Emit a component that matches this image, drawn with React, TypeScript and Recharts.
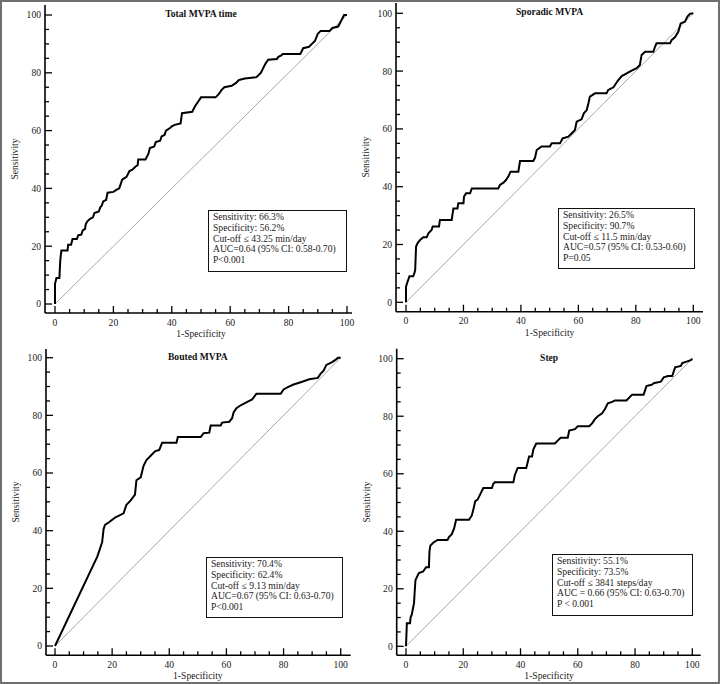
import { Line, LineChart, XAxis, YAxis } from "recharts";

// ROC points: false positive rate (1-Specificity) and sensitivity, both in %
const totalFpr = [0, 0, 0.5, 1.5, 1.8, 2, 2.2, 4.3, 4.5, 5.5, 6, 7.5, 8, 9, 9.5, 10.3, 10.5, 11, 12, 13, 13.5, 15, 15.5, 16, 16.5, 17.5, 18, 20, 21, 22, 22.5, 23, 24.5, 25.5, 26.5, 27.5, 28.3, 28.5, 31, 32, 32.5, 34, 34.5, 36, 36.5, 37.5, 38, 39.5, 40, 41, 43, 43.5, 47, 48, 49, 50, 55, 56, 57, 58, 60.5, 62, 63, 65, 69, 70.5, 71, 72, 73, 76, 76.5, 77.5, 78, 84, 85, 87, 88, 89, 90, 91, 94, 95, 97, 98, 99, 100];
const totalSens = [0, 7, 9, 9, 15, 17, 18.5, 18.5, 20.5, 20.5, 22.5, 22.5, 23.8, 24, 25.5, 26, 27.5, 28.5, 29.5, 30, 31.5, 32, 33.5, 34, 35.5, 36, 38.5, 38.8, 39.5, 40, 41.5, 43, 44, 46, 46.5, 47.5, 48, 50, 50, 52, 54, 54.5, 56, 56.5, 58, 58.5, 60, 61, 61.5, 62, 62.5, 66, 66.5, 68.5, 70, 71.5, 71.5, 72.5, 74, 75, 75.5, 76.5, 77.5, 78, 78.5, 80, 81, 83, 84.5, 84.8, 85.5, 86, 86.5, 86.5, 88.5, 89, 90, 91, 93.5, 94.5, 94.5, 95.5, 96, 98, 100, 100];

const sporadicFpr = [0, 0, 0.5, 1.2, 2.5, 2.9, 3.2, 3.5, 4, 4.9, 6, 7.2, 7.8, 8.9, 9.3, 11.5, 11.8, 15.9, 16.5, 17.9, 18.2, 20, 20.2, 20.9, 22.3, 22.9, 32.1, 32.7, 33.9, 34.8, 35.6, 36.4, 39.1, 39.7, 44.3, 44.9, 45.5, 47.2, 50.1, 50.7, 53.6, 54.5, 56.5, 57.7, 58.8, 59.4, 61.1, 61.9, 62.9, 63.5, 64, 65.8, 69.8, 70.4, 72.2, 73.9, 75.1, 76.8, 78.5, 80.3, 81.4, 82, 83.2, 86.1, 86.7, 87.2, 91.9, 92.5, 93.6, 94.8, 95.6, 97.1, 97.9, 98.8, 100];
const sporadicSens = [0, 5.4, 7, 9, 9, 10, 11.2, 19.3, 20.4, 21.6, 22.5, 22.5, 23.9, 25, 26.2, 26.2, 28.5, 28.5, 32.5, 32.5, 34.3, 34.3, 36.6, 37.7, 37.7, 39.4, 39.4, 40.6, 41.4, 42.3, 43.5, 45.2, 45.2, 48.9, 48.9, 50, 52.7, 53.9, 53.9, 55, 55, 56.7, 57.3, 58.5, 59.6, 62.5, 63.3, 65.4, 66.5, 68.9, 71.2, 72.3, 72.3, 73.5, 74.4, 76.9, 78.3, 79.2, 80.2, 81, 82.1, 85.6, 86.7, 86.7, 88.5, 89.6, 89.6, 90.8, 91.7, 93.7, 96.5, 97.1, 98.8, 99.8, 100];

const boutedFpr = [0, 14.8, 15.5, 16, 16.5, 17, 17.5, 19, 21, 24, 25, 26.5, 28, 28.5, 30, 31, 32, 33.5, 35, 36.5, 37.5, 42.5, 43, 51, 52, 54, 54.5, 58, 58.5, 61, 62, 62.5, 63.5, 65, 67, 69, 70.5, 79, 80, 81.5, 83.5, 86, 89, 92, 93, 94, 95, 97, 98.5, 99, 100];
const boutedSens = [0, 31, 33, 34.5, 36, 40.5, 42, 43, 44.5, 46, 49, 50.5, 52.5, 57.5, 58.5, 62.5, 64.5, 66, 67.5, 68, 70.5, 70.5, 72.5, 72.5, 73.8, 74, 76.5, 76.5, 77.5, 77.8, 79, 81, 82.5, 83.5, 84.5, 85.5, 87.5, 87.5, 89, 89.8, 90.7, 91.5, 92.5, 93, 94.5, 95.5, 97.5, 98.5, 99.5, 100, 100];

const stepFpr = [0, 0.3, 1.4, 1.6, 2, 2.5, 2.8, 3.1, 3.3, 4, 4.5, 6, 7, 8, 8.2, 8.5, 9.5, 11, 14.5, 15, 16, 16.8, 17.5, 22, 23, 23.5, 24.2, 25, 26, 27, 30, 30.5, 31, 37.5, 38, 39, 42, 42.5, 43, 44, 44.5, 45.5, 52, 53, 54, 56.5, 57, 59, 60, 64, 65, 66, 67, 68.5, 69.5, 70.5, 72, 73, 77, 78, 79, 83, 83.5, 84, 86, 86.5, 89, 90, 91.5, 93, 93.5, 94, 96, 96.5, 98, 99.5, 100];
const stepSens = [0, 8, 8, 10, 11, 13.5, 15, 20, 23, 24.5, 25.5, 26, 27.5, 27.5, 33, 35, 36, 37, 37, 38, 39, 41, 44, 44, 45.5, 47.5, 50.5, 51, 53, 55, 55, 56.5, 57, 57, 59.5, 62, 62, 64, 66, 66, 68.5, 70.5, 70.5, 71.5, 72.5, 72.5, 75, 75.5, 76.5, 76.5, 77.5, 79, 80, 81, 82.5, 84.5, 85, 85.5, 85.5, 86.5, 87.5, 87.5, 89, 90.5, 91, 91.5, 92, 93.5, 94, 94, 95.5, 97, 97.5, 98.5, 99, 99.5, 100];

const diagFpr = [0, 100];
const diagSens = [0, 100];

const axisTicks = [0, 5, 10, 15, 20, 25, 30, 35, 40, 45, 50, 55, 60, 65, 70, 75, 80, 85, 90, 95, 100];

const titles = ["Total MVPA time", "Sporadic MVPA", "Bouted MVPA", "Step"];
const sensitivityText = ["66.3%", "26.5%", "70.4%", "55.1%"];
const specificityText = ["56.2%", "90.7%", "62.4%", "73.5%"];
const cutoffText = ["43.25 min/day", "11.5 min/day", "9.13 min/day", "3841 steps/day"];
const aucText = [
  "AUC=0.64 (95% CI: 0.58-0.70)",
  "AUC=0.57 (95% CI: 0.53-0.60)",
  "AUC=0.67 (95% CI: 0.63-0.70)",
  "AUC = 0.66 (95% CI: 0.63-0.70)",
];
const pText = ["P<0.001", "P=0.05", "P<0.001", "P < 0.001"];

const serif = "'Liberation Serif', 'Times New Roman', serif";

const zip = (xs: number[], ys: number[]) => xs.map((fpr, i) => ({ fpr, sens: ys[i] }));
const curves = [zip(totalFpr, totalSens), zip(sporadicFpr, sporadicSens), zip(boutedFpr, boutedSens), zip(stepFpr, stepSens)];
const diagonal = zip(diagFpr, diagSens);

// pixel layout per panel (page coords): where data 0/100 fall, where the axis lines sit, and the info box
const panels = [
  { ox: 0, oy: 0, x0: 55, x100: 347, y0: 304, y100: 15, axL: 45, axB: 313, axT: 5, axR: 352, box: [208, 210, 139, 62] },
  { ox: 360, oy: 0, x0: 406, x100: 693.3, y0: 302.3, y100: 13.3, axL: 396, axB: 311.7, axT: 3, axR: 703, box: [558, 208, 137, 61] },
  { ox: 0, oy: 342, x0: 55, x100: 340.7, y0: 646, y100: 357.7, axL: 46, axB: 655.3, axT: 349, axR: 350.7, box: [206, 557, 137, 61] },
  { ox: 360, oy: 342, x0: 406, x100: 692.3, y0: 646.3, y100: 358.7, axL: 396.7, axB: 655.3, axT: 348.7, axR: 700.7, box: [552, 554, 141, 62] },
];

function XTick(props: any) {
  const { x, y, payload } = props;
  const major = payload.value % 20 === 0;
  return (
    <g>
      <line x1={x} x2={x} y1={y} y2={y - (major ? 7 : 4)} stroke="#000" strokeWidth={1.3} />
      {major && (
        <text x={x} y={y + 12.5} textAnchor="middle" fontSize={9.6} fontFamily={serif} fill="#222">
          {payload.value}
        </text>
      )}
    </g>
  );
}

function YTick(props: any) {
  const { x, y, payload } = props;
  const major = payload.value % 20 === 0;
  return (
    <g>
      <line x1={x} x2={x + (major ? 7 : 4)} y1={y} y2={y} stroke="#000" strokeWidth={1.3} />
      {major && (
        <text x={x - 4} y={y + 3.4} textAnchor="end" fontSize={9.6} fontFamily={serif} fill="#222">
          {payload.value}
        </text>
      )}
    </g>
  );
}

function RocPanel({ idx }: { idx: number }) {
  const p = panels[idx];
  const sx = (p.x100 - p.x0) / 100;
  const sy = (p.y0 - p.y100) / 100;
  const xDomain = [(p.axL - p.x0) / sx, (p.axR - p.x0) / sx];
  const yDomain = [(p.y0 - p.axB) / sy, (p.y0 - p.axT) / sy];
  const midX = (p.x0 + p.x100) / 2 - p.ox;
  const midY = (p.axT + p.axB) / 2 - p.oy;
  const [bx, by, bw, bh] = p.box;

  return (
    <div style={{ position: "absolute", left: p.ox, top: p.oy, width: 360, height: 342 }}>
      <LineChart
        width={360}
        height={342}
        style={{ overflow: "visible" }}
        margin={{ left: p.axL - p.ox - 1, top: p.axT - p.oy, right: p.ox + 360 - p.axR, bottom: p.oy + 342 - p.axB - 1 }}
      >
        <XAxis
          type="number"
          dataKey="fpr"
          domain={xDomain}
          allowDataOverflow
          ticks={axisTicks}
          interval={0}
          height={1}
          tickSize={0}
          tickMargin={0}
          tickLine={false}
          tick={XTick}
          axisLine={{ stroke: "#000", strokeWidth: 1.6 }}
        />
        <YAxis
          type="number"
          dataKey="sens"
          domain={yDomain}
          allowDataOverflow
          ticks={axisTicks}
          interval={0}
          width={1}
          tickSize={0}
          tickMargin={0}
          tickLine={false}
          tick={YTick}
          axisLine={{ stroke: "#000", strokeWidth: 1.6 }}
        />
        <Line data={diagonal} dataKey="sens" stroke="#a8a8a8" strokeWidth={1} dot={false} isAnimationActive={false} />
        <Line data={curves[idx]} dataKey="sens" stroke="#000" strokeWidth={2} dot={false} isAnimationActive={false} />
      </LineChart>

      <div style={{ position: "absolute", left: midX - 80, top: p.y100 - p.oy - 8, width: 160, textAlign: "center", fontFamily: serif, fontWeight: "bold", fontSize: 9.6, lineHeight: "14px", color: "#111" }}>
        {titles[idx]}
      </div>
      <div style={{ position: "absolute", left: midX - 60, top: p.axB - p.oy + 14, width: 120, textAlign: "center", fontFamily: serif, fontSize: 9.6, lineHeight: "14px", color: "#222" }}>
        1-Specificity
      </div>
      <div style={{ position: "absolute", left: p.axL - p.ox - 30 - 40, top: midY - 7, width: 80, textAlign: "center", fontFamily: serif, fontSize: 9.6, lineHeight: "14px", color: "#222", transform: "rotate(-90deg)" }}>
        Sensitivity
      </div>
      <div
        style={{
          position: "absolute",
          left: bx - p.ox,
          top: by - p.oy,
          width: bw,
          height: bh,
          boxSizing: "border-box",
          border: "1.5px solid #111",
          padding: "1px 0 0 4px",
          fontFamily: serif,
          fontSize: 9.6,
          lineHeight: "10.8px",
          color: "#222",
          background: "#fff",
          whiteSpace: "nowrap",
        }}
      >
        <div>Sensitivity: {sensitivityText[idx]}</div>
        <div>Specificity: {specificityText[idx]}</div>
        <div>Cut-off ≤ {cutoffText[idx]}</div>
        <div>{aucText[idx]}</div>
        <div>{pText[idx]}</div>
      </div>
    </div>
  );
}

export default function App() {
  return (
    <div style={{ position: "absolute", left: 0, top: 0, width: 720, height: 684, background: "#fff" }}>
      {[0, 1, 2, 3].map((i) => (
        <RocPanel key={i} idx={i} />
      ))}
      <div style={{ position: "absolute", left: 0, top: 0, width: 720, height: 684, boxSizing: "border-box", border: "2px solid #6f6f6f", pointerEvents: "none" }} />
    </div>
  );
}
